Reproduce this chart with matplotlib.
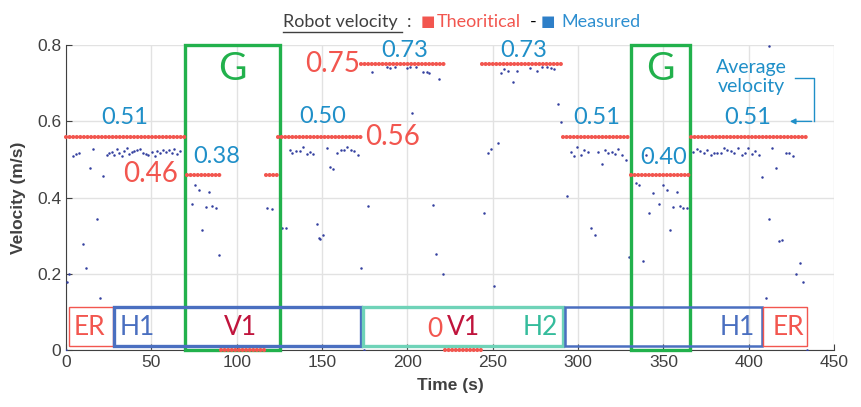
import matplotlib.pyplot as plt
from matplotlib.patches import Rectangle
from matplotlib.lines import Line2D

# Consigne (théorique) : segments en escalier
seg_start = [0, 71, 91, 117, 124, 173, 222, 244, 291, 331, 366]
seg_end = [71, 91, 117, 124, 173, 222, 244, 291, 331, 366, 435]
seg_value = [0.56, 0.46, 0, 0.46, 0.56, 0.75, 0, 0.75, 0.56, 0.46, 0.56]

meas_t = [0, 0.4, 2, 3.9, 5.9, 7.6, 9.8, 11.7, 14, 16, 18, 19.9, 21.9,
          23.8, 25.4, 26.8, 28.1, 29.7, 31.2, 32.6, 34.0, 35.5, 37.1, 38.5, 39.8,
          41.4, 43.4, 45.3, 46.9, 48.2, 50.2, 52.1, 53.5, 55.1, 57.0, 58.6, 60.2,
          61.9, 63.3, 65.2, 66.8,
          73.6, 75.6, 77.9, 79.9, 81.8, 83.8, 85.7, 87.9, 89.8, 118, 120.9,
          126.7, 128.9, 131.2, 132.6, 134.6, 137.1, 139, 141, 142.9, 144.9,
          146.9, 148.2, 148.8, 150.8, 152.7, 154.7, 156.6, 158.6, 161, 162.9,
          164.8, 166.8, 168.7, 171.3, 172.8, 174.8, 177.1,
          179.1, 187.9, 189.8, 192.8, 199.6, 201.5, 202.9, 205.1, 209.4, 211.3,
          212.9, 214.8, 216.8, 218.7, 220.7,
          245.1, 247.1, 248.8, 250.8, 252.9, 254.9, 256.8, 258.8, 261.7, 264.1,
          271.9, 275.8, 278.7, 282, 284, 286, 288.1, 289.9,
          293.8, 295.7, 297.8, 299.6, 301.6, 303.5, 305.7, 307.6, 310, 311.9,
          313.9, 315.8, 317.8, 319.7, 321.7, 323.6, 325.6, 327.9, 329.9,
          333.8, 335.7, 337.9, 339.8, 341.8, 343.7, 347.6, 350, 352, 353.9,
          355.8, 357.8, 359.8, 361.7, 363.7,
          367.2, 369.5, 371.5, 373.8, 375.8, 377.7, 379.7, 381.6, 383.6, 385.5,
          387.5, 389.4, 391.5, 393.9, 395.9, 397.8, 399.8, 401.8, 403.9, 405.9,
          407.8, 410, 411.7, 412, 413.9, 416, 418, 419.7, 421.9, 423.8, 425.8,
          427.7, 429.9, 432, 434]
meas_v = [0, 0.179, 0.199, 0.51, 0.515, 0.517, 0.279, 0.215, 0.477, 0.528, 0.345, 0.137, 0.456,
          0.513, 0.517, 0.519, 0.513, 0.528, 0.517, 0.51, 0.522, 0.531, 0.515, 0.519, 0.522,
          0.524, 0.528, 0.517, 0.515, 0.513, 0.519, 0.51, 0.522, 0.517, 0.526, 0.519, 0.524,
          0.517, 0.528, 0.515, 0.522,
          0.382, 0.432, 0.42, 0.316, 0.375, 0.416, 0.378, 0.372, 0.25, 0.373, 0.369,
          0.321, 0.321, 0.524, 0.517, 0.522, 0.522, 0.534, 0.515, 0.519, 0.515,
          0.33, 0.294, 0.292, 0.303, 0.53, 0.48, 0.476, 0.518, 0.525, 0.525,
          0.534, 0.524, 0.521, 0.512, 0.216, 0, 0.377,
          0.729, 0.742, 0.74, 0.742, 0.74, 0.742, 0.621, 0.743, 0.729, 0.729,
          0.726, 0.381, 0.251, 0.711, 0.2,
          0.36, 0.517, 0.528, 0.168, 0.543, 0.727, 0.737, 0.733, 0.703, 0.733,
          0.739, 0.731, 0.742, 0.742, 0.74, 0.737, 0.646, 0.598,
          0.403, 0.519, 0.508, 0.534, 0.513, 0.524, 0.519, 0.32, 0.301, 0.519,
          0.487, 0.525, 0.517, 0.519, 0.515, 0.528, 0.513, 0.499, 0.243,
          0.438, 0.434, 0.234, 0.513, 0.36, 0.412, 0.382, 0.432, 0.42, 0.316,
          0.375, 0.416, 0.377, 0.373, 0.373,
          0.519, 0.528, 0.522, 0.517, 0.525, 0.513, 0.517, 0.517, 0.517, 0.531,
          0.525, 0.522, 0.517, 0.531, 0.512, 0.517, 0.531, 0.515, 0.522, 0.513,
          0.455, 0.137, 0.345, 0.798, 0.53, 0.477, 0.285, 0.29, 0.517, 0.517, 0.51,
          0.199, 0.229, 0.179, 0]

# Vitesses moyennes / consignes annotées
avg_labels = ["0.51", "0.38", "0.50", "0.73", "0.73", "0.51", "0.40", "0.51"]
avg_t = [34.6, 88, 150.6, 198.6, 268.4, 311, 350.4, 399.6]
avg_v = [0.61, 0.508, 0.613, 0.785, 0.785, 0.61, 0.505, 0.61]
set_labels = ["0.46", "0.75", "0.56"]
set_t = [49.8, 156, 191.6]
set_v = [0.463, 0.751, 0.56]

# Zones G (t début, t fin)
g_zones = [(69.7, 125.4), (331, 365.6)]

RED = "#f2564f"
BLUE_TXT = "#1f8fc8"
GREEN = "#22b14c"
BOX_BLUE = "#4a6fc0"
TEAL = "#6fd3b8"
DARKRED = "#c0143c"
GRAY = "#404040"

fig = plt.figure(figsize=(8.61, 4.07), dpi=100)
ax = fig.add_axes([0.0767, 0.140, 0.892, 0.749])

for s, e, v in zip(seg_start, seg_end, seg_value):
    ax.plot([s, e], [v, v], color=RED, lw=3, linestyle=(0, (0.01, 0.85)),
            dash_capstyle="round", zorder=6, clip_on=False)
ax.plot(meas_t, meas_v, "o", color="#34409f", ms=1.8, mew=0, zorder=4)

ax.set_xlim(0, 450)
ax.set_ylim(0, 0.8)
ax.set_xticks(range(0, 451, 50))
ax.set_yticks([0, 0.2, 0.4, 0.6, 0.8])
ax.set_yticklabels(["0", "0.2", "0.4", "0.6", "0.8"])
ax.grid(True, color="#e2e2e2", lw=1)
ax.set_axisbelow(True)
for side in ["top", "right"]:
    ax.spines[side].set_visible(False)
for side in ["left", "bottom"]:
    ax.spines[side].set_color(GRAY)
ax.tick_params(direction="in", colors=GRAY, labelsize=12.5, length=4)
for lab in ax.get_xticklabels() + ax.get_yticklabels():
    lab.set_family("Liberation Sans")
ax.set_xlabel("Time (s)", fontsize=12.5, fontweight="bold", color=GRAY,
              family="Liberation Sans", labelpad=6)
ax.set_ylabel("Velocity (m/s)", fontsize=12.5, fontweight="bold", color=GRAY,
              family="Liberation Sans", labelpad=8)

ann = dict(family="Lato", ha="center", va="center")
for lab, t, v in zip(avg_labels, avg_t, avg_v):
    ax.text(t, v, lab, color=BLUE_TXT, fontsize=17, **ann)
for lab, t, v in zip(set_labels, set_t, set_v):
    ax.text(t, v, lab, color=RED, fontsize=20, **ann)

# Zones G
for s, e in g_zones:
    ax.add_patch(Rectangle((s, 0), e - s, 0.8, fill=False, ec=GREEN, lw=2.4,
                           clip_on=False, zorder=5))
    ax.text((s + e) / 2, 0.738, "G", color=GREEN, fontsize=28, **ann)

# Phases en bas
boxes = [(1.8, 27.5, RED, 1.0), (28.1, 172.9, BOX_BLUE, 2.4), (174, 291.2, TEAL, 2.4),
         (292.4, 407.8, BOX_BLUE, 1.8), (408.4, 434.2, RED, 1.0)]
for s, e, c, w in boxes:
    ax.add_patch(Rectangle((s, 0.01), e - s, 0.103, fill=False, ec=c, lw=w, zorder=5))
ax.text(14, 0.058, "ER", color=RED, fontsize=19, **ann)
ax.text(41.6, 0.058, "H1", color=BOX_BLUE, fontsize=19, **ann)
ax.text(102.5, 0.058, "V1", color=DARKRED, fontsize=19, **ann)
ax.text(216.3, 0.055, "0", color=RED, fontsize=19, **ann)
ax.text(232.7, 0.058, "V1", color=DARKRED, fontsize=19, **ann)
ax.text(277.7, 0.058, "H2", color="#35bc9c", fontsize=19, **ann)
ax.text(393, 0.058, "H1", color=BOX_BLUE, fontsize=19, **ann)
ax.text(423, 0.058, "ER", color=RED, fontsize=19, **ann)

# Vitesse moyenne
ax.text(401.4, 0.717, "Average\nvelocity", color=BLUE_TXT, fontsize=14,
        linespacing=1.1, **ann)
ax.plot([427.1, 438.3, 438.3], [0.715, 0.715, 0.6], color=BLUE_TXT, lw=1)
ax.annotate("", xy=(422.5, 0.6), xytext=(438.5, 0.6),
            arrowprops=dict(arrowstyle="-|>", color=BLUE_TXT, lw=1, mutation_scale=8))

# Titre
W, H = 861, 407
ty = 1 - 22 / H
fig.text(283 / W, ty, "Robot velocity", color=GRAY, fontsize=13, va="center",
         family="Lato")
fig.add_artist(Line2D([283 / W, 402 / W], [1 - 32 / H, 1 - 32 / H], color=GRAY, lw=1))
fig.text(407 / W, ty, ":", color=GRAY, fontsize=13, va="center", family="Lato")
fig.text(421 / W, ty, "\u25A0", color=RED, fontsize=11, va="center", family="DejaVu Sans")
fig.text(437 / W, ty, "Theoritical", color=RED, fontsize=13, va="center", family="Lato")
fig.text(530 / W, ty, "-", color="black", fontsize=13, va="center", family="Lato")
fig.text(541 / W, ty, "\u25A0", color="#2e7fc8", fontsize=11, va="center", family="DejaVu Sans")
fig.text(561 / W, ty, "Measured", color="#2e8fd0", fontsize=13, va="center", family="Lato")

fig.savefig("out.png", dpi=100)
